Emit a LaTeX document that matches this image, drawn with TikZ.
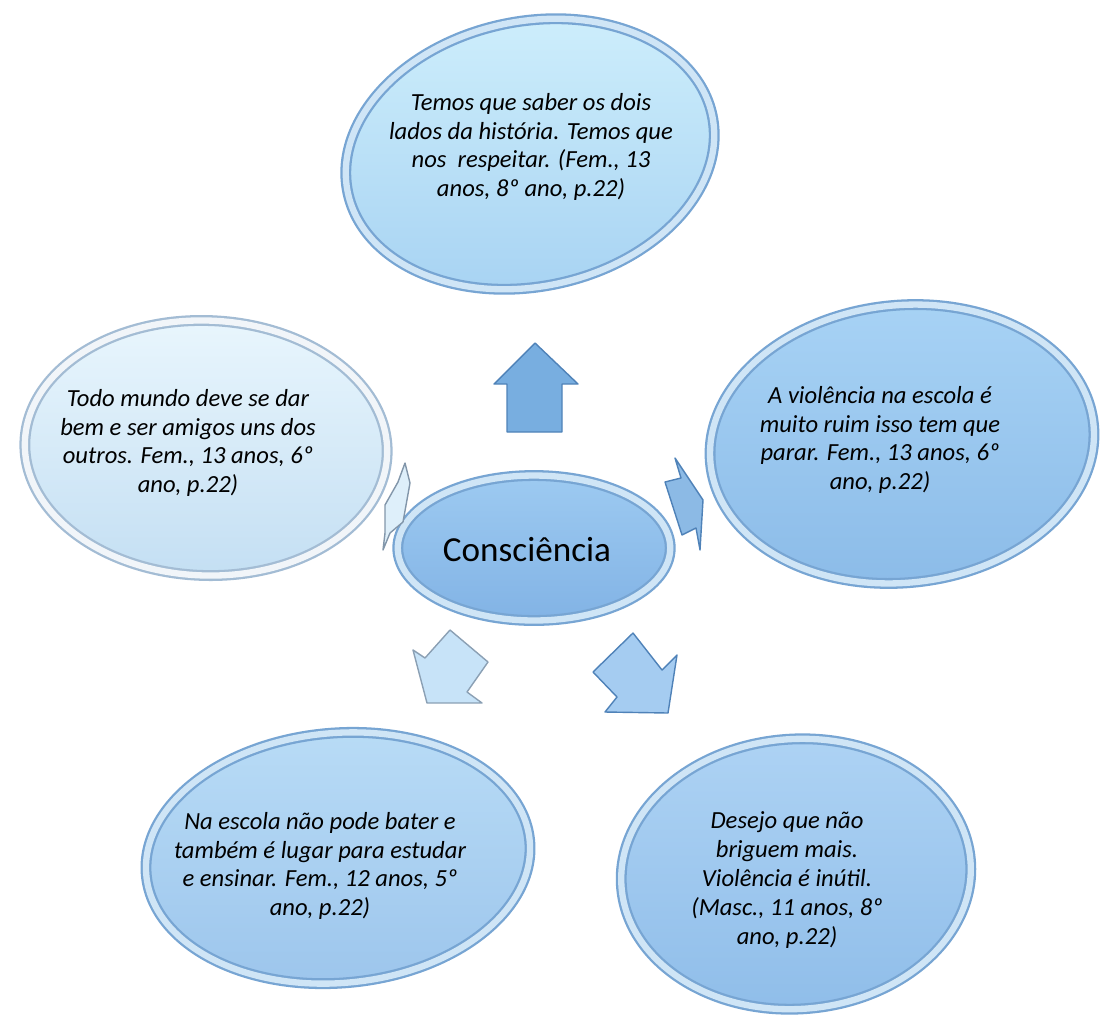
\documentclass[tikz,border=0pt]{standalone}
\usepackage{fontspec}
\setmainfont{Carlito}
\usepackage{tikz}
\usetikzlibrary{shapes.geometric}

\definecolor{anel}{HTML}{77A5D3}
\definecolor{anelClaro}{HTML}{CFE5F6}
\definecolor{anelCinza}{HTML}{A3BCD4}
\definecolor{setaAzul}{HTML}{78AEE0}
\definecolor{setaBorda}{HTML}{4F82B8}
\definecolor{topoA}{HTML}{CFEFFC}
\definecolor{topoB}{HTML}{A6D2F2}
\definecolor{esqA}{HTML}{E9F6FD}
\definecolor{esqB}{HTML}{C4DFF3}
\definecolor{dirA}{HTML}{A8D3F5}
\definecolor{dirB}{HTML}{8BBBE8}
\definecolor{bxEsqA}{HTML}{B9DCF6}
\definecolor{bxEsqB}{HTML}{9CC5EC}
\definecolor{bxDirA}{HTML}{AED3F4}
\definecolor{bxDirB}{HTML}{8FBDE9}
\definecolor{centroA}{HTML}{9DCAF1}
\definecolor{centroB}{HTML}{82B3E5}

\begin{document}
\begin{tikzpicture}[x=0.02cm,y=-0.02cm,
  balao/.style={ellipse, inner sep=0pt, draw=anel, line width=1.3pt,
    double=anelClaro, double distance=3.6pt},
  fala/.style={align=center, font=\itshape\fontsize{14}{16.4}\selectfont},
  seta/.style={draw=setaBorda, line width=0.8pt, line join=round}]
  \useasboundingbox (0,0) rectangle (1101,1018);

  % baloes
  \node[balao, top color=topoA, bottom color=topoB, minimum width=7.45cm, minimum height=5.3cm, rotate=12] (topo) at (530,154) {};
  \node[fala] (topoTxt) at (531,147) {Temos que saber os dois\\lados da história. Temos que\\nos\ \ respeitar. (Fem., 13\\anos, 8º ano, p.22)};

  \node[balao, draw=anelCinza, double=white!85!anelCinza, top color=esqA, bottom color=esqB, minimum width=7.25cm, minimum height=5.1cm, rotate=-2] (esq) at (206,448) {};
  \node[fala] (esqTxt) at (188,443) {Todo mundo deve se dar\\bem e ser amigos uns dos\\outros. Fem., 13 anos, 6º\\ano, p.22)};

  \node[balao, top color=dirA, bottom color=dirB, minimum width=7.7cm, minimum height=5.55cm, rotate=6] (dir) at (902,444) {};
  \node[fala] (dirTxt) at (880,440) {A violência na escola é\\muito ruim isso tem que\\parar. Fem., 13 anos, 6º\\ano, p.22)};

  \node[balao, top color=bxEsqA, bottom color=bxEsqB, minimum width=7.7cm, minimum height=5.0cm, rotate=5] (baixoEsq) at (338,858) {};
  \node[fala] (baixoEsqTxt) at (320,866) {Na escola não pode bater e\\também é lugar para estudar\\e ensinar. Fem., 12 anos, 5º\\ano, p.22)};

  \node[balao, top color=bxDirA, bottom color=bxDirB, minimum width=7.0cm, minimum height=5.4cm, rotate=4] (baixoDir) at (796,874) {};
  \node[fala] (baixoDirTxt) at (787,880) {Desejo que não\\briguem mais.\\Violência é inútil.\\(Masc., 11 anos, 8º\\ano, p.22)};

  % centro
  \node[balao, top color=centroA, bottom color=centroB, minimum width=5.45cm, minimum height=2.9cm] (centro) at (534,548) {};
  \node[font=\fontsize{20}{22}\selectfont] (centroTxt) at (527,550) {Consciência};

  % setas
  \filldraw[seta, fill=setaAzul] (535,343) -- (578,384) -- (562,384) -- (562,432) -- (507,432) -- (507,384) -- (494,384) -- cycle;
  \filldraw[seta, draw=anelCinza!80!black, fill=esqA!70!esqB] (405,463) -- (410,483) -- (403,522) -- (390,533) -- (383,550) -- (385,533) -- (385,505) -- (398,482) -- cycle;
  \filldraw[seta, fill=setaAzul!85!white] (665,482) -- (681,478) -- (675,458) -- (703,500) -- (700,550) -- (696,528) -- (682,535) -- cycle;
  \filldraw[seta, draw=anelCinza!85!black, fill=bxEsqA!80!white] (450,630) -- (488,662) -- (467,692) -- (482,703) -- (427,703) -- (413,650) -- (425,658) -- cycle;
  \filldraw[seta, fill=bxDirA!70!bxDirB] (633,633) -- (593,672) -- (617,697) -- (605,712) -- (668,713) -- (677,655) -- (662,670) -- cycle;
\end{tikzpicture}
\end{document}
